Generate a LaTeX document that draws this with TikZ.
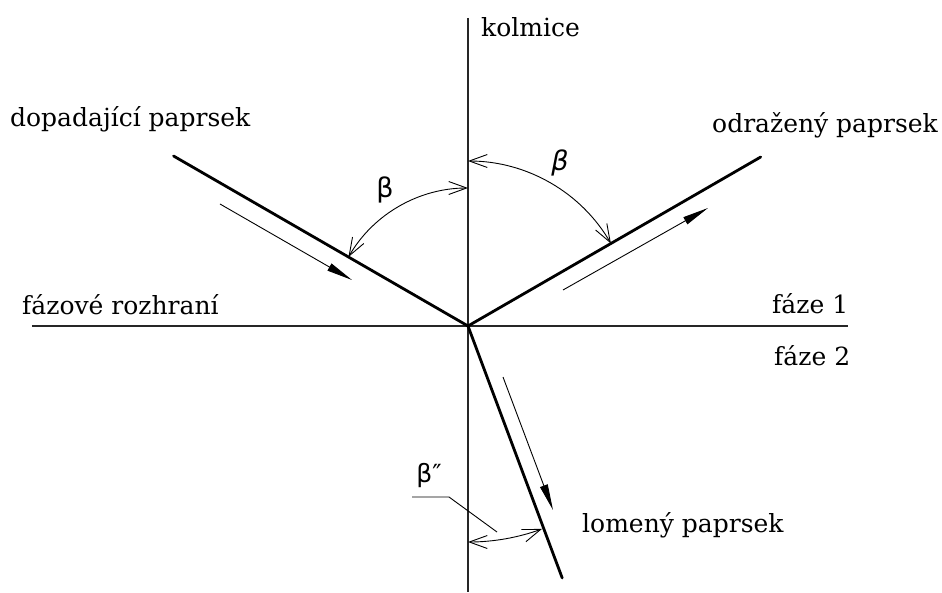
\documentclass[tikz,border=0pt]{standalone}
\usepackage{fontspec}
\setmainfont{DejaVu Serif}
\newfontfamily\grfont{DejaVu Sans}
\usetikzlibrary{arrows.meta}
\begin{document}
\begin{tikzpicture}[x=1pt,y=1pt,
  lbl/.style={font=\fontsize{25}{28}\selectfont, inner sep=0pt, anchor=base west},
  grk/.style={font=\grfont\fontsize{27}{30}\selectfont, inner sep=0pt},
  axis/.style={line width=1.8pt, color=black!85},
  ray/.style={line width=2.8pt, line cap=round},
  dirarrow/.style={line width=0.9pt, -{Triangle[length=26pt,width=8pt]}},
  angarc/.style={line width=0.9pt, {Straight Barb[length=18pt,width=13pt]}-{Straight Barb[length=18pt,width=13pt]}}]
\useasboundingbox (-468,-266) rectangle (474,326);
% axes
\coordinate (O) at (0,0);
\coordinate (vtop) at (0,308);
\coordinate (vbot) at (0,-266);
\coordinate (hl) at (-436,0);
\coordinate (hr) at (380,0);
\draw[axis] (vtop) -- (vbot);
\draw[axis] (hl) -- (hr);
% rays
\coordinate (inc) at (150:340);
\coordinate (refl) at (30:338);
\coordinate (refr) at (-69.5:269);
\draw[ray] (inc) -- (O);
\draw[ray] (O) -- (refl);
\draw[ray] (O) -- (refr);
% direction arrows
\coordinate (a1s) at (-248,122); \coordinate (a1e) at (-116,46);
\coordinate (a2s) at (95,36);    \coordinate (a2e) at (240,118);
\coordinate (a3s) at (35,-51);   \coordinate (a3e) at (85,-184);
\draw[dirarrow] (a1s) -- (a1e);
\draw[dirarrow] (a2s) -- (a2e);
\draw[dirarrow] (a3s) -- (a3e);
% angle arcs
\draw[angarc] (150:138) arc[start angle=150,end angle=90,radius=138];
\draw[angarc] (90:165) arc[start angle=90,end angle=30,radius=165];
\draw[angarc] (-90:216) arc[start angle=-90,end angle=-70,radius=216];
% leader for beta''
\coordinate (l1) at (-56,-171);
\coordinate (l2) at (-19,-171);
\coordinate (l3) at (29,-206);
\draw[line width=0.9pt] (l1) -- (l2) -- (l3);
% labels
\node[grk] (b1) at (-83,136) {β};
\node[grk, font=\grfont\itshape\fontsize{27}{30}\selectfont] (b2) at (92,163) {β};
\node[grk, font=\grfont\fontsize{25}{28}\selectfont] (b3) at (-39,-150) {β″};
\node[lbl] (kol) at (13,289) {kolmice};
\node[lbl] (dop) at (-458,199) {dopadající paprsek};
\node[lbl] (odr) at (244,193) {odražený paprsek};
\node[lbl] (roz) at (-446,12) {fázové rozhraní};
\node[lbl] (f1) at (304,13) {fáze 1};
\node[lbl] (f2) at (306,-39) {fáze 2};
\node[lbl] (lom) at (114,-206) {lomený paprsek};
\end{tikzpicture}
\end{document}
